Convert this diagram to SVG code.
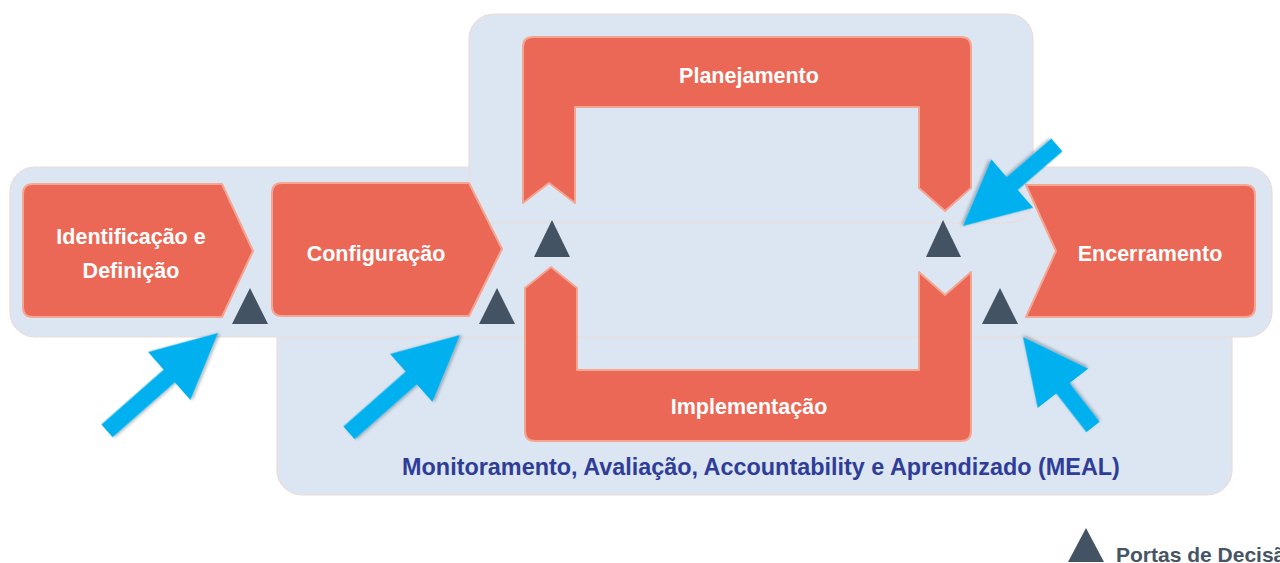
<svg xmlns="http://www.w3.org/2000/svg" width="1280" height="563" viewBox="0 0 1280 563">
  <defs>
    <style>
      .panel { fill: #DCE6F3; stroke: #E9DCDA; stroke-width: 1.2; }
      .phase { fill: #EC6856; stroke: #F4A693; stroke-width: 2; stroke-linejoin: round; }
      .lbl { font-family: "Liberation Sans", Arial, sans-serif; font-weight: bold; font-size: 21.5px; fill: #FFFFFF; text-anchor: middle; }
      .gate { fill: #435363; }
      .arrow { fill: #00B0EF; filter: url(#shadow); }
      .meal { font-family: "Liberation Sans", Arial, sans-serif; font-weight: bold; font-size: 23.4px; fill: #2F3D98; text-anchor: middle; }
      .legend { font-family: "Liberation Sans", Arial, sans-serif; font-weight: bold; font-size: 21px; fill: #455563; }
    </style>
    <filter id="shadow" x="-20%" y="-20%" width="140%" height="140%">
      <feDropShadow dx="1.5" dy="1.5" stdDeviation="1.5" flood-color="#000000" flood-opacity="0.3"/>
    </filter>
  </defs>

  <g id="panels">
    <rect id="panel-meal" class="panel" x="277" y="290" width="955" height="205" rx="25"/>
    <rect id="panel-band" class="panel" x="10" y="167" width="1262" height="170" rx="25"/>
    <rect id="panel-cycle" class="panel" x="469" y="14" width="564" height="209" rx="25"/>
  </g>

  <g id="node-identificacao">
    <path class="phase" d="M33,184 L222,184 L253,251 L222,317 L33,317 Q23,317 23,307 L23,194 Q23,184 33,184 Z"/>
    <text class="lbl" x="131" y="244">Identificação e</text>
    <text class="lbl" x="131" y="278">Definição</text>
  </g>

  <g id="node-configuracao">
    <path class="phase" d="M282,183 L469,183 L502,249 L469,316 L282,316 Q272,316 272,306 L272,193 Q272,183 282,183 Z"/>
    <text class="lbl" x="376" y="261">Configuração</text>
  </g>

  <g id="node-planejamento">
    <path class="phase" d="M523,47 Q523,37 533,37 L961,37 Q971,37 971,47 L971,188 L945,211 L919,188 L919,107 L575,107 L575,203 L549,183 L523,203 Z"/>
    <text class="lbl" x="749" y="83">Planejamento</text>
  </g>

  <g id="node-implementacao">
    <path class="phase" d="M525,288 L551,267 L577,288 L577,370 L919,370 L919,272 L945,295 L971,272 L971,431 Q971,441 961,441 L535,441 Q525,441 525,431 Z"/>
    <text class="lbl" x="749" y="414">Implementação</text>
  </g>

  <g id="node-encerramento">
    <path class="phase" d="M1026,185 L1245,185 Q1255,185 1255,195 L1255,307 Q1255,317 1245,317 L1026,317 L1056,251 Z"/>
    <text class="lbl" x="1150" y="261">Encerramento</text>
  </g>

  <g id="gates">
    <polygon class="gate" points="250,288 232,324 268,324"/>
    <polygon class="gate" points="497,288 479,324 515,324"/>
    <polygon class="gate" points="552,220 534,257 570,257"/>
    <polygon class="gate" points="943,220 926,257 961,257"/>
    <polygon class="gate" points="1000,288 982,324 1018,324"/>
  </g>

  <g id="connectors">
    <polygon class="arrow" transform="translate(218,333) rotate(-41.4)" points="0,0 -65,-32 -65,-8.5 -148,-8.5 -148,8.5 -65,8.5 -65,32"/>
    <polygon class="arrow" transform="translate(460,335) rotate(-41.4)" points="0,0 -65,-32 -65,-8.5 -148,-8.5 -148,8.5 -65,8.5 -65,32"/>
    <polygon class="arrow" transform="translate(963,226) rotate(139.2)" points="0,0 -65,-32 -65,-8.5 -124,-8.5 -124,8.5 -65,8.5 -65,32"/>
    <polygon class="arrow" transform="translate(1023,337) rotate(-127.9)" points="0,0 -65,-32 -65,-8.5 -114,-8.5 -114,8.5 -65,8.5 -65,32"/>
  </g>

  <g id="meal-label">
    <text class="meal" x="761" y="475">Monitoramento, Avaliação, Accountability e Aprendizado (MEAL)</text>
  </g>

  <g id="legend">
    <polygon class="gate" points="1086,528 1068,562 1104,562"/>
    <text class="legend" x="1116" y="562">Portas de Decisão</text>
  </g>
</svg>
